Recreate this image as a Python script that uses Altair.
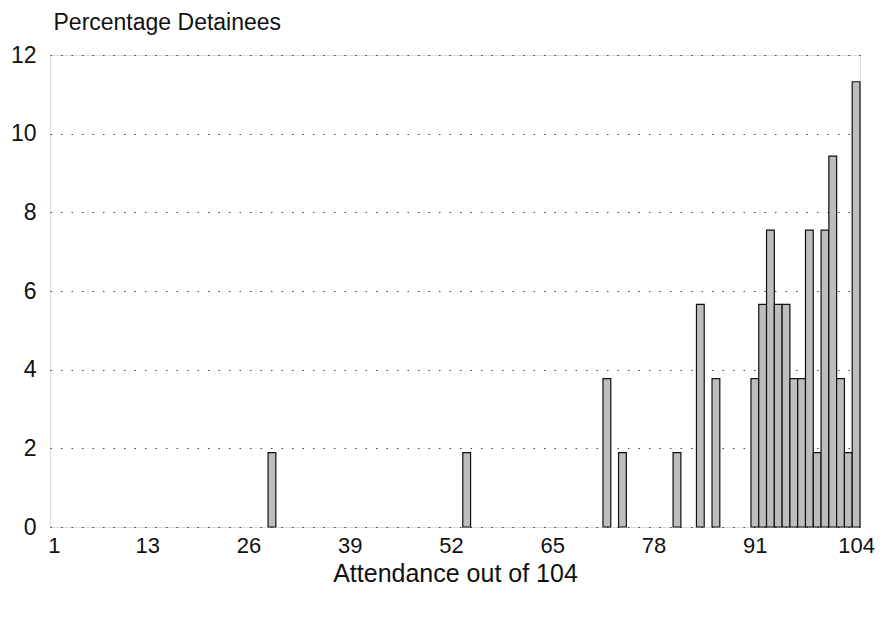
import altair as alt
import pandas as pd

# Attendance value (out of 104) and percentage of detainees
attendance = [29, 54, 72, 74, 81, 84, 86, 91, 92, 93, 94, 95, 96, 97, 98, 99, 100, 101, 102, 103, 104]
percent = [1.89, 1.89, 3.77, 1.89, 1.89, 5.66, 3.77, 3.77, 5.66, 7.55, 5.66, 5.66, 3.77, 3.77, 7.55,
           1.89, 7.55, 9.43, 3.77, 1.89, 11.32]
x_ticks = [1, 13, 26, 39, 52, 65, 78, 91, 104]
y_ticks = [0, 2, 4, 6, 8, 10, 12]

df = pd.DataFrame({"attendance": attendance, "percent": percent})

FONT = "Liberation Sans"

bars = alt.Chart(df).transform_calculate(
    lo="datum.attendance - 0.5", hi="datum.attendance + 0.5"
).mark_bar(fill="#bdbdbd", stroke="#111111", strokeWidth=1.2).encode(
    x=alt.X("lo:Q",
            scale=alt.Scale(domain=[0.5, 104.5], nice=False, zero=False),
            axis=alt.Axis(values=x_ticks, title="Attendance out of 104", ticks=False,
                          domain=False, grid=False, labelFontSize=22, labelPadding=8,
                          labelFont=FONT, titleFont=FONT, titleFontSize=25,
                          titleFontWeight="normal", titlePadding=5,
                          labelColor="#111", titleColor="#111")),
    x2="hi:Q",
    y=alt.Y("percent:Q",
            scale=alt.Scale(domain=[0, 12], nice=False),
            axis=alt.Axis(values=y_ticks, title="Percentage Detainees", ticks=False,
                          domain=False, grid=True, gridDash=[1.5, 9], gridColor="#444",
                          gridWidth=1.2,
                          labelFontSize=23, labelPadding=14, labelFont=FONT,
                          labelColor="#111", titleColor="#111",
                          titleFont=FONT, titleFontSize=23, titleFontWeight="normal",
                          titleAngle=0, titleAlign="left", titleBaseline="middle",
                          titleX=3, titleY=-33)),
    y2=alt.datum(0),
)

chart = bars.properties(
    width=810, height=472,
    autosize=alt.AutoSizeParams(type="none"),
    padding={"left": 42, "top": 47, "right": 16, "bottom": 85},
).configure_view(stroke="#222", strokeWidth=1.3).configure(background="white")

chart.save("out.html", embed_options={"renderer": "svg", "actions": False})
